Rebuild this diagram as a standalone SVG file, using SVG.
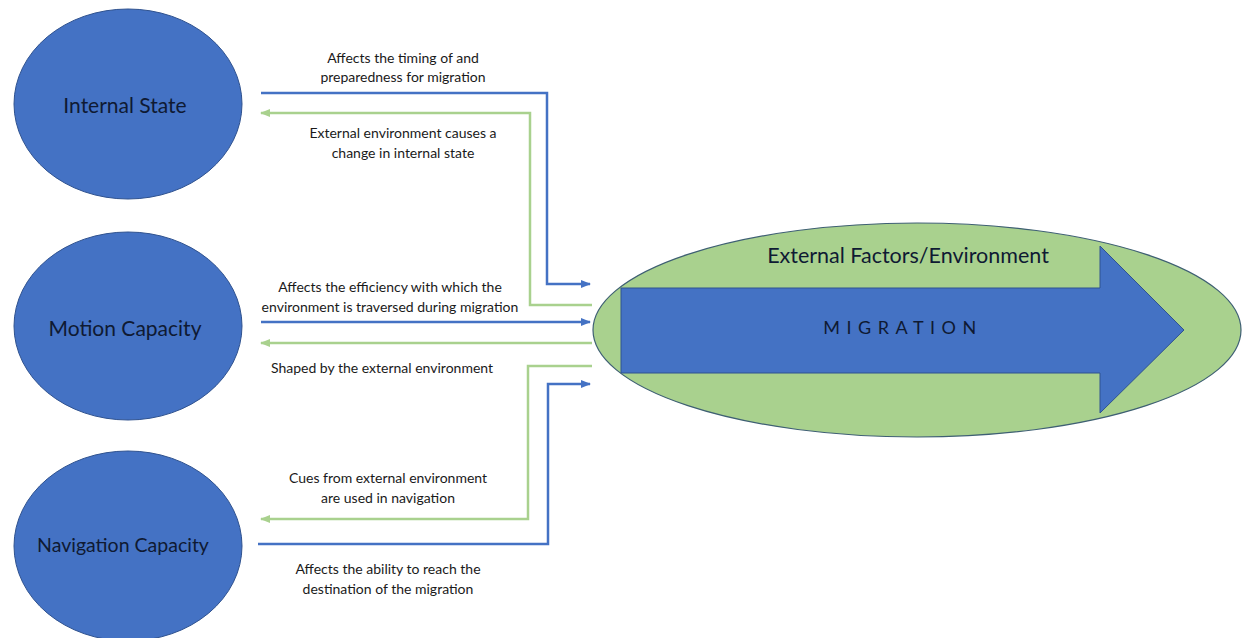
<svg xmlns="http://www.w3.org/2000/svg" width="1248" height="638" viewBox="0 0 1248 638">
  <defs>
    <style>
      .node { fill: #4472C4; stroke: #2F528F; stroke-width: 1; }
      .nlabel { font-family: Lato, "Liberation Sans", sans-serif; font-size: 21px; fill: #0f1a33; text-anchor: middle; dominant-baseline: central; }
      .clabel { font-family: Lato, "Liberation Sans", sans-serif; font-size: 14px; fill: #1a1a1a; text-anchor: middle; dominant-baseline: central; }
      .blue { fill: none; stroke: #4472C4; stroke-width: 2.5; marker-end: url(#ahBlue); }
      .green { fill: none; stroke: #A9D18E; stroke-width: 2.5; marker-end: url(#ahGreen); }
    </style>
    <marker id="ahBlue" viewBox="0 0 10 8" refX="9" refY="4" markerWidth="10" markerHeight="8" markerUnits="userSpaceOnUse" orient="auto">
      <path d="M0,0 L10,4 L0,8 z" fill="#4472C4"/>
    </marker>
    <marker id="ahGreen" viewBox="0 0 10 8" refX="9" refY="4" markerWidth="10" markerHeight="8" markerUnits="userSpaceOnUse" orient="auto">
      <path d="M0,0 L10,4 L0,8 z" fill="#A9D18E"/>
    </marker>
  </defs>
  <rect width="1248" height="638" fill="#ffffff"/>

  <g id="internal-state">
    <ellipse class="node" cx="128" cy="104" rx="114" ry="95"/>
    <text class="nlabel" x="125" y="104">Internal State</text>
  </g>
  <g id="motion-capacity">
    <ellipse class="node" cx="128" cy="326" rx="114" ry="94"/>
    <text class="nlabel" x="125" y="327">Motion Capacity</text>
  </g>
  <g id="navigation-capacity">
    <ellipse class="node" cx="128" cy="546" rx="114" ry="95"/>
    <text class="nlabel" x="123" y="544" style="font-size:19.5px">Navigation Capacity</text>
  </g>

  <g id="migration-environment">
    <ellipse cx="917" cy="330" rx="324" ry="107" fill="#A9D18E" stroke="#3E5F73" stroke-width="1.2"/>
    <path d="M621,288 H1100 V246 L1184,330 L1100,413 V373 H621 Z" fill="#4472C4" stroke="#2F528F" stroke-width="1"/>
    <text class="nlabel" x="908" y="255" style="font-size:21.5px">External Factors/Environment</text>
    <text class="nlabel" x="903" y="327" style="font-size:18px; letter-spacing:6.5px; fill:#0f1a33">MIGRATION</text>
  </g>

  <g id="connectors">
    <path class="blue" d="M261,93 H547 V284 H590"/>
    <path class="green" d="M592,305 H530 V113 H261"/>
    <path class="blue" d="M261,322 H590"/>
    <path class="green" d="M592,343 H261"/>
    <path class="green" d="M592,366 H528 V519 H261"/>
    <path class="blue" d="M258,544 H548 V384 H590"/>
  </g>

  <g id="connector-labels">
    <text class="clabel" x="403" y="57">Affects the timing of and</text>
    <text class="clabel" x="403" y="76">preparedness for migration</text>
    <text class="clabel" x="403" y="132">External environment causes a</text>
    <text class="clabel" x="403" y="152">change in internal state</text>
    <text class="clabel" x="390" y="286">Affects the efficiency with which the</text>
    <text class="clabel" x="390" y="306">environment is traversed during migration</text>
    <text class="clabel" x="382" y="367">Shaped by the external environment</text>
    <text class="clabel" x="388" y="477">Cues from external environment</text>
    <text class="clabel" x="388" y="497">are used in navigation</text>
    <text class="clabel" x="388" y="568">Affects the ability to reach the</text>
    <text class="clabel" x="388" y="588">destination of the migration</text>
  </g>
</svg>
